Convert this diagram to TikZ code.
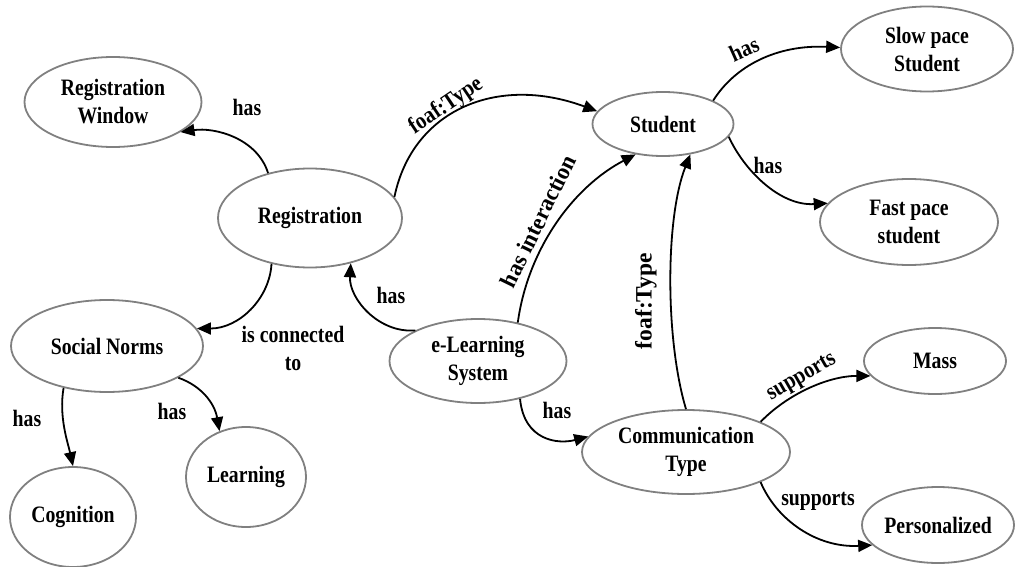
\documentclass[tikz,border=0pt]{standalone}
\usepackage{fontspec}
\setmainfont{Liberation Serif}[FakeStretch=0.84]
\newfontfamily\famA{Liberation Serif}[FakeStretch=0.87]
\newfontfamily\famB{Liberation Serif}[FakeStretch=0.96]
\newfontfamily\famC{Liberation Serif}
\usetikzlibrary{shapes.geometric,arrows.meta}
\definecolor{ellgray}{RGB}{128,128,128}
\begin{document}
\begin{tikzpicture}[x=1pt,y=-1pt,
  ell/.style={ellipse, draw=ellgray, line width=1.8pt, inner sep=0pt, align=center,
    font=\bfseries\fontsize{23.5}{28}\selectfont},
  lbl/.style={inner sep=0pt, align=center, font=\bfseries\fontsize{23.5}{28}\selectfont},
  conn/.style={line width=1.8pt, -{Triangle[length=14pt,width=12pt]}}]
\useasboundingbox (0,0) rectangle (1015,567);

% nodes
\node[ell, minimum width=177pt, minimum height=90pt] (rw) at (113,102) {Registration\\Window};
\node[ell, minimum width=184pt, minimum height=99pt] (reg) at (310,218) {Registration};
\node[ell, minimum width=141pt, minimum height=64pt] (stu) at (663,124) {Student};
\node[ell, minimum width=172pt, minimum height=85pt] (slow) at (927,49) {Slow pace\\Student};
\node[ell, minimum width=178pt, minimum height=86pt] (fast) at (909,222) {Fast pace\\student};
\node[ell, minimum width=192pt, minimum height=92pt] (soc) at (107,346) {Social Norms};
\node[ell, minimum width=126pt, minimum height=100pt] (cog) at (73,517) {Cognition};
\node[ell, minimum width=120pt, minimum height=100pt] (lea) at (246,477) {Learning};
\node[ell, minimum width=177pt, minimum height=84pt] (elr) at (478,361) {e-Learning\\System};
\node[ell, minimum width=208pt, minimum height=84pt] (com) at (686,452) {Communication\\Type};
\node[ell, minimum width=142pt, minimum height=66pt] (mass) at (935,361) {Mass};
\node[ell, minimum width=152pt, minimum height=76pt] (pers) at (938,525) {Personalized};

% connectors
\draw[conn] (reg.133.6) .. controls +(-11,-35) and +(34,-5) .. (rw.-24.3);
\draw[conn] (reg.14.4) .. controls +(18,-87) and +(-100,-37) .. (stu.169);
\draw[conn] (elr.44) .. controls +(10,-73) and +(-63,33) .. (stu.-132);
\draw[conn] (com.90) .. controls +(-21,-70) and +(-25,63) .. (stu.-48);
\draw[conn] (stu.25.6) .. controls +(22,-35) and +(-63,-3) .. (slow.179);
\draw[conn] (stu.-11.5) .. controls +(15,33) and +(-48,3) .. (fast.167);
\draw[conn] (reg.-130) .. controls +(-2,35) and +(42,0) .. (soc.11);
\draw[conn] (elr.154.6) .. controls +(-37,3) and +(-2,35) .. (reg.-48);
\draw[conn] (elr.-42.8) .. controls +(4,42) and +(-30,8) .. (com.171);
\draw[conn] (soc.-136) .. controls +(-5,29) and +(-5,-23) .. (cog.90);
\draw[conn] (soc.-24.5) .. controls +(23,8) and +(-5,-28) .. (lea.120.6);
\draw[conn] (com.22.3) .. controls +(26,-27) and +(-43,0) .. (mass.-167);
\draw[conn] (com.-22.3) .. controls +(16,38) and +(-55,3) .. (pers.-163.6);

% labels
\node[lbl] (l1) at (247,107) {has};
\node[lbl, rotate=34, font=\famA\bfseries\fontsize{23.5}{28}\selectfont] (l2) at (446,106) {foaf:Type};
\node[lbl, rotate=64, font=\famB\bfseries\fontsize{23.5}{28}\selectfont] (l3) at (538,221) {has interaction};
\node[lbl, rotate=90, font=\famC\bfseries\fontsize{23.5}{28}\selectfont] (l4) at (646,301) {foaf:Type};
\node[lbl, rotate=24, font=\famA\bfseries\fontsize{23.5}{28}\selectfont] (l5) at (744,49) {has};
\node[lbl] (l6) at (768,165) {has};
\node[lbl] (l7) at (293,348) {is connected\\to};
\node[lbl] (l8) at (391,295) {has};
\node[lbl] (l9) at (557,410) {has};
\node[lbl] (l10) at (27,418) {has};
\node[lbl] (l11) at (172,411) {has};
\node[lbl, rotate=30, font=\famA\bfseries\fontsize{23.5}{28}\selectfont] (l12) at (802,378) {supports};
\node[lbl] (l13) at (818,501) {supports};
\end{tikzpicture}
\end{document}
